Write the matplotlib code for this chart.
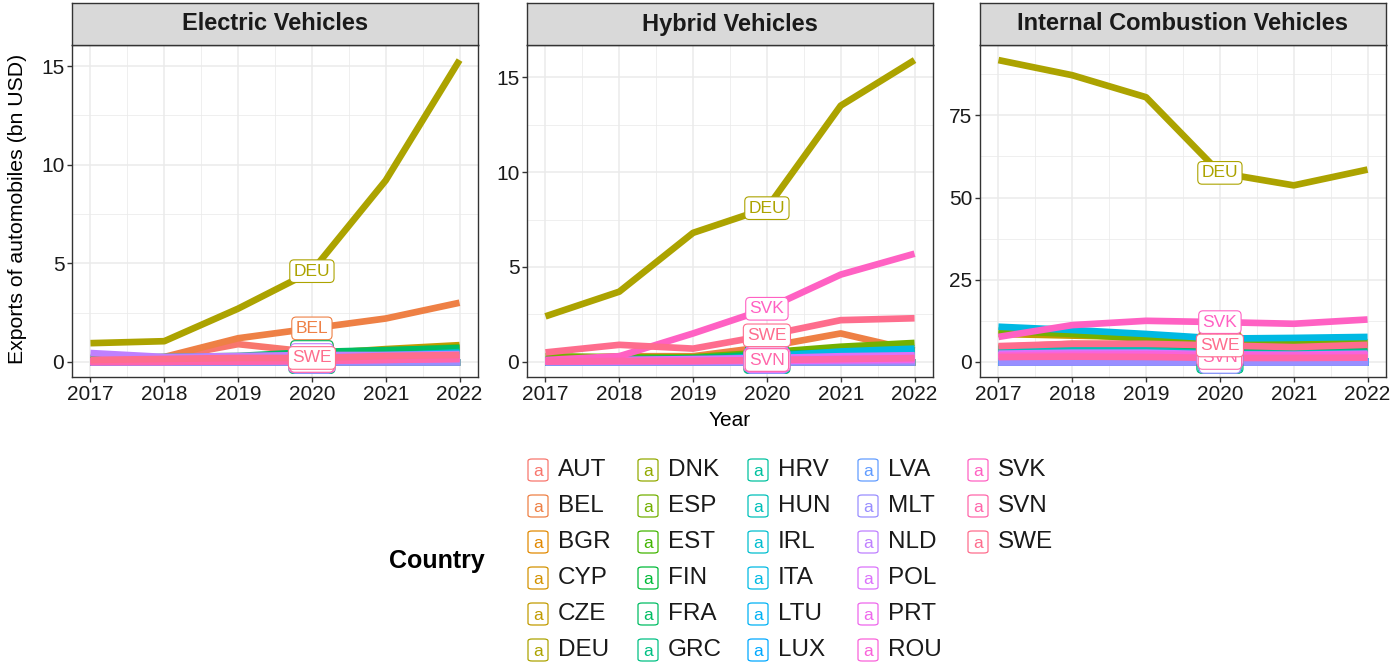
import numpy as np
import matplotlib
matplotlib.use("Agg")
import matplotlib.pyplot as plt
from matplotlib.patches import FancyBboxPatch

plt.rcParams['font.family'] = ['Liberation Sans', 'DejaVu Sans']

years = [2017, 2018, 2019, 2020, 2021, 2022]
countries = ["AUT", "BEL", "BGR", "CYP", "CZE", "DEU", "DNK", "ESP", "EST", "FIN",
             "FRA", "GRC", "HRV", "HUN", "IRL", "ITA", "LTU", "LUX", "LVA", "MLT",
             "NLD", "POL", "PRT", "ROU", "SVK", "SVN", "SWE"]
panel_titles = ["Electric Vehicles", "Hybrid Vehicles", "Internal Combustion Vehicles"]

electric = {
    "AUT": [0.10, 0.20, 0.90, 0.50, 0.40, 0.40],
    "BEL": [0.05, 0.25, 1.20, 1.70, 2.20, 3.00],
    "BGR": [0.00, 0.00, 0.00, 0.00, 0.00, 0.01],
    "CYP": [0.00, 0.00, 0.00, 0.00, 0.00, 0.00],
    "CZE": [0.05, 0.10, 0.15, 0.40, 0.65, 0.85],
    "DEU": [0.95, 1.05, 2.70, 4.60, 9.20, 15.30],
    "DNK": [0.01, 0.01, 0.02, 0.03, 0.04, 0.05],
    "ESP": [0.05, 0.10, 0.20, 0.40, 0.55, 0.75],
    "EST": [0.00, 0.00, 0.00, 0.01, 0.01, 0.02],
    "FIN": [0.00, 0.00, 0.05, 0.20, 0.30, 0.35],
    "FRA": [0.20, 0.25, 0.30, 0.50, 0.60, 0.70],
    "GRC": [0.00, 0.00, 0.00, 0.00, 0.00, 0.00],
    "HRV": [0.00, 0.00, 0.00, 0.00, 0.01, 0.01],
    "HUN": [0.00, 0.02, 0.05, 0.20, 0.30, 0.50],
    "IRL": [0.00, 0.00, 0.00, 0.01, 0.01, 0.01],
    "ITA": [0.02, 0.03, 0.05, 0.20, 0.35, 0.45],
    "LTU": [0.00, 0.00, 0.01, 0.02, 0.03, 0.04],
    "LUX": [0.00, 0.00, 0.01, 0.02, 0.03, 0.03],
    "LVA": [0.00, 0.00, 0.00, 0.01, 0.01, 0.02],
    "MLT": [0.00, 0.00, 0.00, 0.00, 0.00, 0.00],
    "NLD": [0.45, 0.25, 0.30, 0.35, 0.35, 0.40],
    "POL": [0.01, 0.02, 0.05, 0.10, 0.15, 0.20],
    "PRT": [0.01, 0.02, 0.05, 0.10, 0.15, 0.20],
    "ROU": [0.00, 0.00, 0.01, 0.05, 0.10, 0.15],
    "SVK": [0.00, 0.00, 0.05, 0.15, 0.20, 0.25],
    "SVN": [0.00, 0.01, 0.02, 0.05, 0.10, 0.15],
    "SWE": [0.10, 0.15, 0.20, 0.20, 0.30, 0.35],
}

hybrid = {
    "AUT": [0.05, 0.10, 0.10, 0.20, 0.30, 0.30],
    "BEL": [0.10, 0.30, 0.30, 0.80, 1.50, 0.60],
    "BGR": [0.00, 0.00, 0.00, 0.00, 0.00, 0.00],
    "CYP": [0.00, 0.00, 0.00, 0.00, 0.00, 0.00],
    "CZE": [0.05, 0.10, 0.15, 0.30, 0.50, 0.70],
    "DEU": [2.40, 3.70, 6.80, 8.10, 13.50, 15.90],
    "DNK": [0.01, 0.01, 0.02, 0.03, 0.04, 0.05],
    "ESP": [0.30, 0.25, 0.25, 0.50, 0.80, 1.00],
    "EST": [0.00, 0.00, 0.00, 0.00, 0.01, 0.01],
    "FIN": [0.00, 0.00, 0.05, 0.10, 0.15, 0.20],
    "FRA": [0.10, 0.15, 0.20, 0.40, 0.50, 0.60],
    "GRC": [0.00, 0.00, 0.00, 0.00, 0.00, 0.00],
    "HRV": [0.00, 0.00, 0.00, 0.00, 0.00, 0.01],
    "HUN": [0.01, 0.02, 0.05, 0.15, 0.30, 0.45],
    "IRL": [0.00, 0.00, 0.00, 0.00, 0.01, 0.01],
    "ITA": [0.05, 0.05, 0.10, 0.30, 0.55, 0.70],
    "LTU": [0.00, 0.01, 0.01, 0.02, 0.02, 0.03],
    "LUX": [0.00, 0.00, 0.01, 0.01, 0.02, 0.02],
    "LVA": [0.00, 0.00, 0.00, 0.01, 0.01, 0.01],
    "MLT": [0.00, 0.00, 0.00, 0.00, 0.00, 0.00],
    "NLD": [0.05, 0.10, 0.10, 0.20, 0.25, 0.30],
    "POL": [0.05, 0.10, 0.15, 0.20, 0.30, 0.35],
    "PRT": [0.01, 0.02, 0.03, 0.05, 0.08, 0.10],
    "ROU": [0.02, 0.05, 0.05, 0.10, 0.15, 0.20],
    "SVK": [0.10, 0.30, 1.50, 2.80, 4.60, 5.70],
    "SVN": [0.02, 0.05, 0.05, 0.10, 0.15, 0.20],
    "SWE": [0.50, 0.90, 0.70, 1.40, 2.20, 2.30],
}

combustion = {
    "AUT": [3.0, 3.2, 3.0, 2.5, 2.3, 2.4],
    "BEL": [4.5, 5.5, 5.5, 4.0, 3.8, 4.2],
    "BGR": [0.1, 0.1, 0.1, 0.1, 0.1, 0.1],
    "CYP": [0.0, 0.0, 0.0, 0.0, 0.0, 0.0],
    "CZE": [8.5, 8.0, 7.5, 6.0, 5.8, 6.0],
    "DEU": [91.8, 87.2, 80.5, 57.5, 53.7, 58.5],
    "DNK": [0.2, 0.2, 0.2, 0.2, 0.2, 0.2],
    "ESP": [9.5, 8.5, 7.0, 5.5, 5.5, 5.8],
    "EST": [0.1, 0.1, 0.1, 0.1, 0.1, 0.1],
    "FIN": [0.3, 0.5, 0.6, 0.4, 0.3, 0.3],
    "FRA": [4.0, 4.0, 4.5, 3.5, 3.5, 3.8],
    "GRC": [0.05, 0.05, 0.05, 0.05, 0.05, 0.05],
    "HRV": [0.05, 0.05, 0.05, 0.05, 0.05, 0.05],
    "HUN": [3.0, 3.5, 3.5, 2.5, 2.5, 2.8],
    "IRL": [0.05, 0.05, 0.05, 0.05, 0.05, 0.05],
    "ITA": [10.7, 9.7, 8.5, 7.1, 7.3, 7.6],
    "LTU": [0.2, 0.2, 0.2, 0.2, 0.2, 0.2],
    "LUX": [0.3, 0.3, 0.3, 0.3, 0.3, 0.3],
    "LVA": [0.1, 0.1, 0.1, 0.1, 0.1, 0.1],
    "MLT": [0.01, 0.01, 0.01, 0.01, 0.01, 0.01],
    "NLD": [2.0, 2.2, 2.0, 1.8, 1.7, 1.9],
    "POL": [2.5, 2.8, 2.8, 2.3, 2.2, 2.5],
    "PRT": [1.5, 1.8, 2.0, 1.8, 1.9, 2.0],
    "ROU": [2.0, 2.2, 2.3, 2.0, 2.0, 2.2],
    "SVK": [7.6, 11.2, 12.5, 12.1, 11.6, 12.9],
    "SVN": [1.5, 1.6, 1.5, 1.2, 1.2, 1.3],
    "SWE": [4.8, 5.5, 5.5, 5.0, 4.5, 5.2],
}

panel_data = [electric, hybrid, combustion]
panel_yticks = [[0, 5, 10, 15], [0, 5, 10, 15], [0, 25, 50, 75]]
label_year = 2020


def hcl_to_hex(h, c=100.0, l=65.0):
    hr = np.deg2rad(h)
    u = c * np.cos(hr)
    v = c * np.sin(hr)
    Xn, Yn, Zn = 95.047, 100.0, 108.883
    Y = Yn * ((l + 16) / 116) ** 3 if l > 8 else Yn * l / 903.3
    un = 4 * Xn / (Xn + 15 * Yn + 3 * Zn)
    vn = 9 * Yn / (Xn + 15 * Yn + 3 * Zn)
    up = u / (13 * l) + un
    vp = v / (13 * l) + vn
    X = 9.0 * Y * up / (4 * vp)
    Z = -X / 3 - 5 * Y + 3 * Y / vp
    X, Y, Z = X / 100, Y / 100, Z / 100
    r = 3.240479 * X - 1.537150 * Y - 0.498535 * Z
    g = -0.969256 * X + 1.875992 * Y + 0.041556 * Z
    b = 0.055648 * X - 0.204043 * Y + 1.057311 * Z

    def gam(t):
        t = max(t, 0.0)
        return 12.92 * t if t <= 0.0031308 else 1.055 * t ** (1 / 2.4) - 0.055

    rgb = [min(max(gam(t), 0), 1) for t in (r, g, b)]
    return '#%02x%02x%02x' % tuple(int(round(x * 255)) for x in rgb)


n = len(countries)
hues = np.linspace(15, 375 - 360 / n, n) % 360
colors = {cn: hcl_to_hex(h) for cn, h in zip(countries, hues)}

W, H = 1392, 666
fig = plt.figure(figsize=(W / 100, H / 100), dpi=100)

panel_x = [72, 527, 980]
panel_w = 406
panel_top, panel_bot = 45, 377
strip_top = 3

grey20 = '#333333'
grid_col = '#EBEBEB'

for i, (data, title, yt) in enumerate(zip(panel_data, panel_titles, panel_yticks)):
    left = panel_x[i] / W
    ax = fig.add_axes([left, 1 - panel_bot / H, panel_w / W, (panel_bot - panel_top) / H])
    allv = np.concatenate([np.array(data[c]) for c in countries])
    lo, hi = allv.min(), allv.max()
    pad = (hi - lo) * 0.05
    ax.set_ylim(lo - pad, hi + pad)
    ax.set_xlim(2017 - 0.25, 2022 + 0.25)
    ax.set_xticks(years)
    ax.set_xticks([y + 0.5 for y in years[:-1]], minor=True)
    ax.set_yticks(yt)
    step = yt[1] - yt[0]
    ax.set_yticks([t + step / 2 for t in yt if t + step / 2 < hi + pad], minor=True)
    ax.grid(True, which='major', color=grid_col, linewidth=1.1, zorder=0)
    ax.grid(True, which='minor', color=grid_col, linewidth=0.55, zorder=0)
    ax.set_axisbelow(True)
    for sp in ax.spines.values():
        sp.set_color(grey20)
        sp.set_linewidth(1.0)
    ax.tick_params(which='major', length=3.5, width=1.0, color=grey20,
                   labelsize=15, labelcolor='#1a1a1a', pad=2)
    ax.tick_params(which='minor', length=0)

    for c in countries:
        ax.plot(years, data[c], color=colors[c], linewidth=4.8,
                solid_capstyle='butt', solid_joinstyle='round', zorder=2)
    idx = years.index(label_year)
    for k, c in enumerate(countries):
        ax.text(label_year, data[c][idx], c, color=colors[c], fontsize=12.5,
                ha='center', va='center', zorder=3 + k * 0.01,
                bbox=dict(boxstyle='round,pad=0.22,rounding_size=0.25',
                          facecolor='white', edgecolor=colors[c], linewidth=0.8))

    # strip
    sax = fig.add_axes([left, 1 - panel_top / H, panel_w / W, (panel_top - strip_top) / H])
    sax.set_xticks([])
    sax.set_yticks([])
    sax.set_facecolor('#D9D9D9')
    for sp in sax.spines.values():
        sp.set_color(grey20)
        sp.set_linewidth(1.0)
    sax.text(0.5, 0.5, title, ha='center', va='center', fontsize=17,
             fontweight='bold', color='#1a1a1a', transform=sax.transAxes)

fig.text(18 / W, 1 - 209 / H, "Exports of automobiles (bn USD)", rotation=90,
         ha='center', va='center', fontsize=15.3)
fig.text(730 / W, 1 - 420 / H, "Year", ha='center', va='center', fontsize=15)

# legend
fig.text(437 / W, 1 - 561 / H, "Country", ha='center', va='center', fontsize=18,
         fontweight='bold')
col_x = [528, 638, 748, 858, 968]
row_y = [470, 506, 542, 578, 614, 650]
for k, c in enumerate(countries):
    ci, ri = k // 6, k % 6
    x0, yc = col_x[ci], row_y[ri]
    box = FancyBboxPatch((x0 / W, 1 - (yc + 11) / H), 20 / W, 22 / H,
                         boxstyle='round,pad=0,rounding_size=0.003',
                         transform=fig.transFigure, facecolor='white',
                         edgecolor=colors[c], linewidth=0.9)
    fig.patches.append(box)
    fig.text((x0 + 10) / W, 1 - (yc + 1) / H, "a", color=colors[c], fontsize=12.5,
             ha='center', va='center')
    fig.text((x0 + 30) / W, 1 - yc / H, c, fontsize=17.5, ha='left', va='center',
             color='#1a1a1a')

fig.savefig("out.png", dpi=100, facecolor='white')
